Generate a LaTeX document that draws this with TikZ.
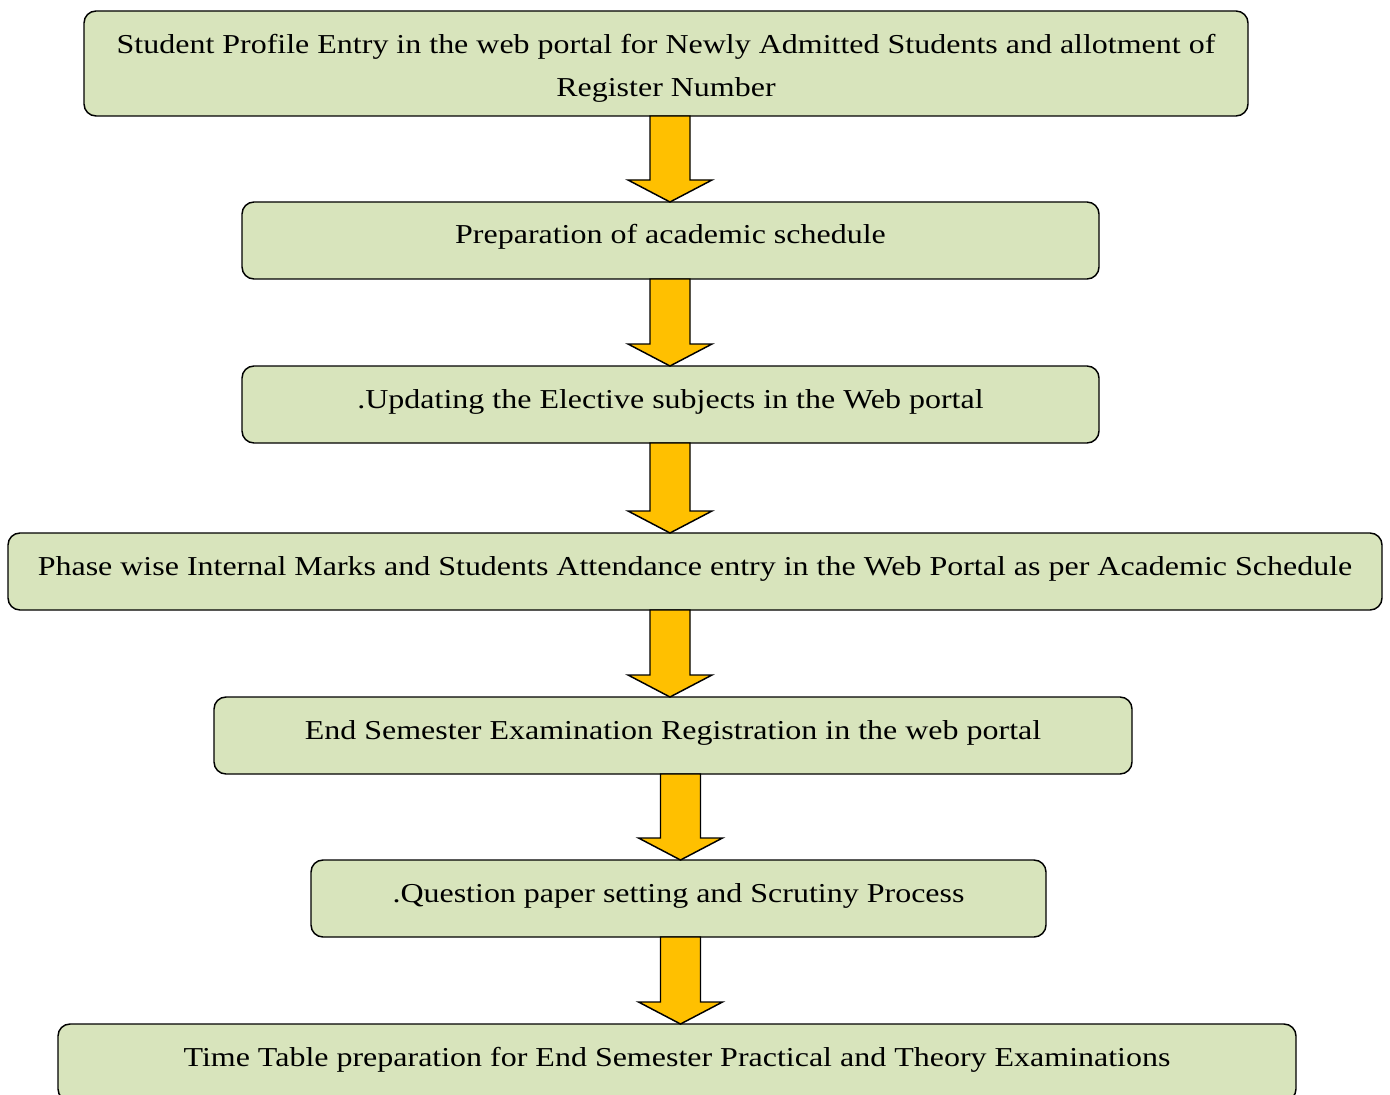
\documentclass[tikz,border=0pt]{standalone}
\usepackage{fontspec}
\setmainfont{Liberation Serif}[FakeStretch=1.17]
\usetikzlibrary{calc}
\begin{document}
\begin{tikzpicture}[x=0.75pt,y=-0.75pt,
  stepbox/.style={draw=black,line width=1.1pt,fill=boxgreen,rounded corners=9pt},
  steptext/.style={inner sep=0pt,anchor=base,font={\fontsize{20.5}{32.25}\selectfont},align=center},
  flowarrow/.style={draw=black,line width=1.1pt,fill=arrowgold,line join=miter}
]
\definecolor{boxgreen}{HTML}{D8E4BC}
\definecolor{arrowgold}{HTML}{FFC000}
\clip (0,0) rectangle (1390,1095);
\fill[white] (0,0) rectangle (1390,1095);
% boxes
\path[stepbox] (84,11) rectangle (1248,116);
\coordinate (b1b) at (670,116);
\path[stepbox] (242,202) rectangle (1099,279);
\coordinate (b2t) at (670,202); \coordinate (b2b) at (670,279);
\path[stepbox] (242,366) rectangle (1099,443);
\coordinate (b3t) at (670,366); \coordinate (b3b) at (670,443);
\path[stepbox] (8,533) rectangle (1382,610);
\coordinate (b4t) at (670,533); \coordinate (b4b) at (670,610);
\path[stepbox] (214,697) rectangle (1132,774);
\coordinate (b5t) at (670,697); \coordinate (b5b) at (680.5,774);
\path[stepbox] (311,860) rectangle (1046,937);
\coordinate (b6t) at (680.5,860); \coordinate (b6b) at (680.5,937);
\path[stepbox] (58,1024) rectangle (1296,1101);
\coordinate (b7t) at (680.5,1024);
% texts
\node[steptext] (t1) at (666,97) {Student Profile Entry in the web portal for Newly Admitted Students and allotment of\\Register Number};
\node[steptext] (t2) at (670.5,244) {Preparation of academic schedule};
\node[steptext] (t3) at (670.5,408) {.Updating the Elective subjects in the Web portal};
\node[steptext] (t4) at (695,575) {Phase wise Internal Marks and Students Attendance entry in the Web Portal as per Academic Schedule};
\node[steptext] (t5) at (673,739) {End Semester Examination Registration in the web portal};
\node[steptext] (t6) at (678.5,902) {.Question paper setting and Scrutiny Process};
\node[steptext] (t7) at (677,1066) {Time Table preparation for End Semester Practical and Theory Examinations};
% arrows
\foreach \a/\b in {b1b/b2t,b2b/b3t,b3b/b4t,b4b/b5t,b5b/b6t,b6b/b7t}{
  \path[flowarrow] ($(\a)+(-20,0)$) -- ($(\a |- \b)+(-20,-22)$) -- ($(\a |- \b)+(-42,-22)$)
     -- (\a |- \b) -- ($(\a |- \b)+(42,-22)$) -- ($(\a |- \b)+(20,-22)$) -- ($(\a)+(20,0)$) -- cycle;
}
\end{tikzpicture}
\end{document}
